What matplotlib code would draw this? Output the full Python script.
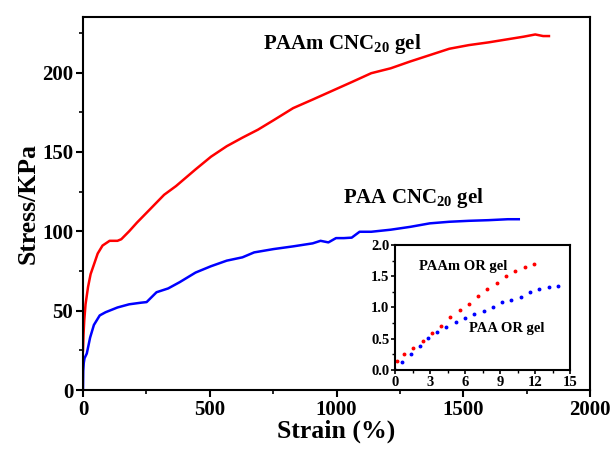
import matplotlib
matplotlib.use("Agg")
import matplotlib.pyplot as plt
from matplotlib.ticker import MultipleLocator, FormatStrFormatter

plt.rcParams['font.family'] = ['Liberation Serif', 'DejaVu Serif']
plt.rcParams['font.weight'] = 'bold'
plt.rcParams['mathtext.fontset'] = 'custom'
plt.rcParams['mathtext.bf'] = 'Liberation Serif:bold'
plt.rcParams['mathtext.rm'] = 'Liberation Serif:bold'

# main curves
paam_strain = [0, 2, 5, 10, 20, 30, 43, 58, 77, 105, 136, 151, 182, 213, 259, 320, 367, 444,
               505, 567, 629, 690, 752, 829, 906, 983, 1060, 1137, 1214, 1291, 1368, 1445,
               1522, 1599, 1676, 1738, 1784, 1815, 1838]
paam_stress = [25, 35, 44, 54, 65, 73, 79, 86, 91, 94, 94, 95, 100, 105.5, 113, 123, 128.5, 139,
               147, 153.6, 159, 164, 170, 177.6, 183, 188.5, 194, 199.6, 202.7, 207, 211, 215,
               217.3, 219, 221, 222.6, 224, 223, 223]

paa_strain = [0, 1, 3, 6, 15, 28, 43, 66, 89, 136, 182, 228, 251, 290, 336, 382, 444, 505, 567,
              629, 675, 752, 829, 906, 937, 968, 998, 1029, 1060, 1091, 1137, 1214, 1291, 1368,
              1445, 1522, 1599, 1676, 1719]
paa_stress = [0, 12, 17, 20, 23, 33, 41, 47, 49, 52, 54, 55, 55.4, 61.6, 64, 68, 74, 78, 81.5,
              83.6, 86.7, 88.8, 90.5, 92.4, 94, 93, 95.7, 95.7, 96, 99.7, 99.7, 101, 102.8, 105,
              106, 106.6, 107, 107.6, 107.6]

# inset dots
paam_or_x = [0.14, 0.77, 1.57, 2.37, 3.14, 3.94, 4.74, 5.54, 6.34, 7.14, 7.91, 8.71, 9.51,
             10.31, 11.11, 11.91]
paam_or_y = [0.145, 0.25, 0.35, 0.47, 0.59, 0.71, 0.85, 0.96, 1.06, 1.19, 1.29, 1.39, 1.50,
             1.59, 1.64, 1.69]
paa_or_x = [0.0, 0.63, 1.34, 2.11, 2.83, 3.6, 4.4, 5.2, 6.0, 6.8, 7.6, 8.4, 9.17, 9.97, 10.77,
            11.57, 12.37, 13.17, 13.94]
paa_or_y = [0.0, 0.13, 0.25, 0.38, 0.51, 0.60, 0.68, 0.76, 0.83, 0.90, 0.94, 1.0, 1.08, 1.12,
            1.17, 1.24, 1.30, 1.32, 1.34]

fig = plt.figure(figsize=(6.13, 4.5), dpi=100)
ax = fig.add_axes([0.1354, 0.1333, 0.8271, 0.8289])
ax.plot(paam_strain, paam_stress, color='red', lw=1.8)
ax.plot(paa_strain, paa_stress, color='blue', lw=1.8)
ax.set_xlim(0, 2000)
ax.set_ylim(0, 235)
ax.xaxis.set_major_locator(MultipleLocator(500))
ax.xaxis.set_minor_locator(MultipleLocator(250))
ax.yaxis.set_major_locator(MultipleLocator(50))
ax.yaxis.set_minor_locator(MultipleLocator(25))
ax.tick_params(which='major', direction='out', length=5, width=1.5, labelsize=15, pad=2)
ax.tick_params(which='minor', direction='out', length=3, width=1.2)
for s in ax.spines.values():
    s.set_linewidth(1.5)
ax.set_xlabel('Strain (%)', fontsize=18.5, fontweight='bold', labelpad=0)
ax.set_ylabel('Stress/KPa', fontsize=18.5, fontweight='bold', labelpad=2)
ax.text(1022, 218, r'PAAm CNC$_{\mathbf{20}}$ gel', fontsize=15, fontweight='bold',
        ha='center', va='center')
ax.text(1306, 121, r'PAA CNC$_{\mathbf{20}}$ gel', fontsize=15, fontweight='bold',
        ha='center', va='center')

ins = fig.add_axes([0.6444, 0.1778, 0.2855, 0.2778])
ins.plot(paam_or_x, paam_or_y, 'o', color='red', ms=1.8)
ins.plot(paa_or_x, paa_or_y, 'o', color='blue', ms=1.8)
ins.set_xlim(0, 15)
ins.set_ylim(0, 2.0)
ins.xaxis.set_major_locator(MultipleLocator(3))
ins.xaxis.set_minor_locator(MultipleLocator(1.5))
ins.yaxis.set_major_locator(MultipleLocator(0.5))
ins.yaxis.set_minor_locator(MultipleLocator(0.25))
ins.yaxis.set_major_formatter(FormatStrFormatter('%.1f'))
ins.tick_params(which='major', direction='out', length=3, width=1.2, labelsize=10.5, pad=1)
ins.tick_params(which='minor', direction='out', length=2, width=1)
for s in ins.spines.values():
    s.set_linewidth(1.5)
ins.text(5.8, 1.66, 'PAAm OR gel', fontsize=10.5, fontweight='bold', ha='center', va='center')
ins.text(9.6, 0.67, 'PAA OR gel', fontsize=10.5, fontweight='bold', ha='center', va='center')

fig.savefig('out.png', dpi=100)
